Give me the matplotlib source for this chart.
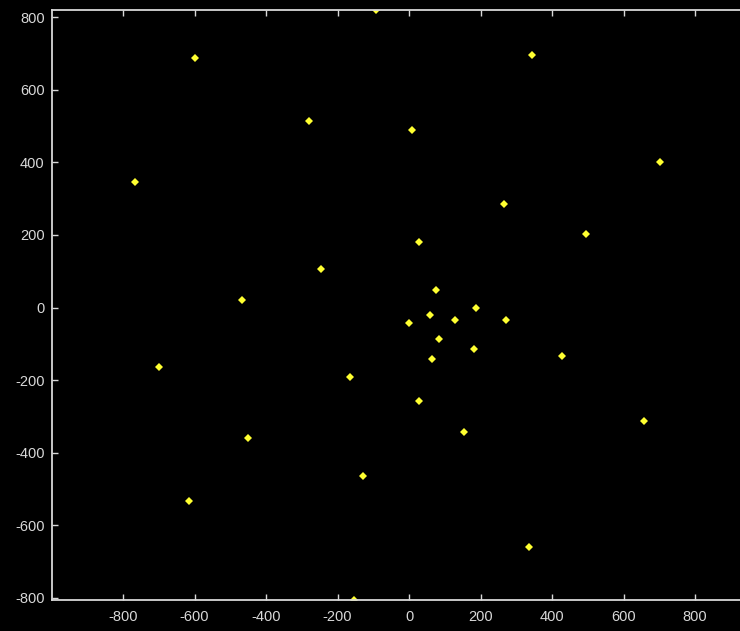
import numpy as np
import matplotlib
matplotlib.use("Agg")
import matplotlib.pyplot as plt

# point coordinates
x_vals = [-92, -599, 345, -279, 8, 703, -766, 266, 496, 29, -245, -466,
          75, 188, 1, 59, 130, 270, 84, -699, 63, 183, 429, -165, 29,
          -450, 154, 658, -129, -615, 336, -154]
y_vals = [820, 688, 697, 515, 489, 402, 347, 286, 203, 182, 107, 20,
          49, -1, -43, -21, -34, -34, -87, -163, -143, -113, -134, -191, -258,
          -359, -342, -312, -463, -533, -661, -806]

ticks = [-800, -600, -400, -200, 0, 200, 400, 600, 800]
tick_labels = [str(t) for t in ticks]

plt.rcParams['font.family'] = ['Liberation Sans', 'DejaVu Sans']

fig = plt.figure(figsize=(7.4, 6.31), dpi=100, facecolor='black')
ax = fig.add_axes([51.5 / 740, 31 / 631, 715 / 740, 590 / 631])
ax.set_facecolor('black')

ax.plot(x_vals, y_vals, linestyle='none', marker='D', markersize=4.0,
        color='#ffff30', markeredgewidth=0)

ax.set_xlim(-1000, 1000)
ax.set_ylim(min(y_vals), max(y_vals))
ax.set_xticks(ticks)
ax.set_xticklabels(tick_labels)
ax.set_yticks(ticks)
ax.set_yticklabels(tick_labels)

grey = '#d8d8d8'
for s in ax.spines.values():
    s.set_color(grey)
    s.set_linewidth(1.3)
ax.tick_params(direction='in', length=4.5, width=1.0, colors=grey,
               labelsize=10.5, top=True, right=True, pad=5)
ax.tick_params(axis='x', pad=7)

fig.savefig('out.png', dpi=100, facecolor='black')
